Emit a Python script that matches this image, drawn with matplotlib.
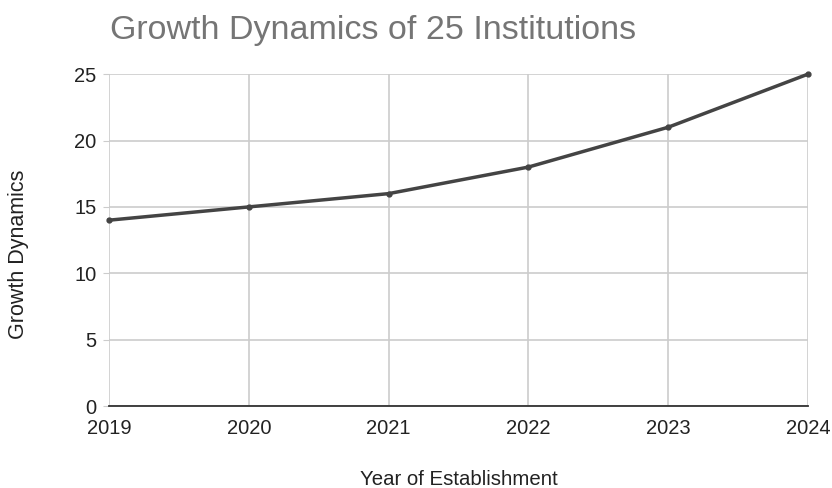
import matplotlib
matplotlib.use('Agg')
from matplotlib import pyplot as plt

plt.rcParams['font.family'] = ['Liberation Sans', 'DejaVu Sans']

# Data
years = [2019, 2020, 2021, 2022, 2023, 2024]
growth = [14, 15, 16, 18, 21, 25]
yticks = [0, 5, 10, 15, 20, 25]

fig = plt.figure(figsize=(8.32, 4.88), dpi=100)
ax = fig.add_axes([0.131, 0.168, 0.840, 0.680])

ax.plot(years, growth, color='#444444', lw=2.5, marker='o', ms=3.5, zorder=3,
        clip_on=False)

ax.set_xlim(2019, 2024)
ax.set_ylim(0, 25)
ax.set_xticks(years)
ax.set_yticks(yticks)
ax.grid(True, color='#cccccc', lw=1.2)
ax.set_axisbelow(True)
for s in ['top', 'right', 'left']:
    ax.spines[s].set_visible(False)
ax.spines['bottom'].set_color('#333333')
ax.spines['bottom'].set_linewidth(1.3)
ax.tick_params(axis='x', length=0, labelsize=14.5, pad=9, colors='#222222')
ax.tick_params(axis='y', length=4, color='#cccccc', labelsize=14.5, pad=5,
               colors='#222222')

ax.set_xlabel('Year of Establishment', fontsize=14.7, color='#222222', va='center')
ax.xaxis.set_label_coords(0.5, -0.220)
ax.set_ylabel('Growth Dynamics', fontsize=15.5, color='#222222', va='center')
ax.yaxis.set_label_coords(-0.129, 0.458)

fig.text(0.132, 0.937, 'Growth Dynamics of 25 Institutions', fontsize=24.5,
         color='#757575', va='center', ha='left')

plt.savefig('out.png', dpi=100)
